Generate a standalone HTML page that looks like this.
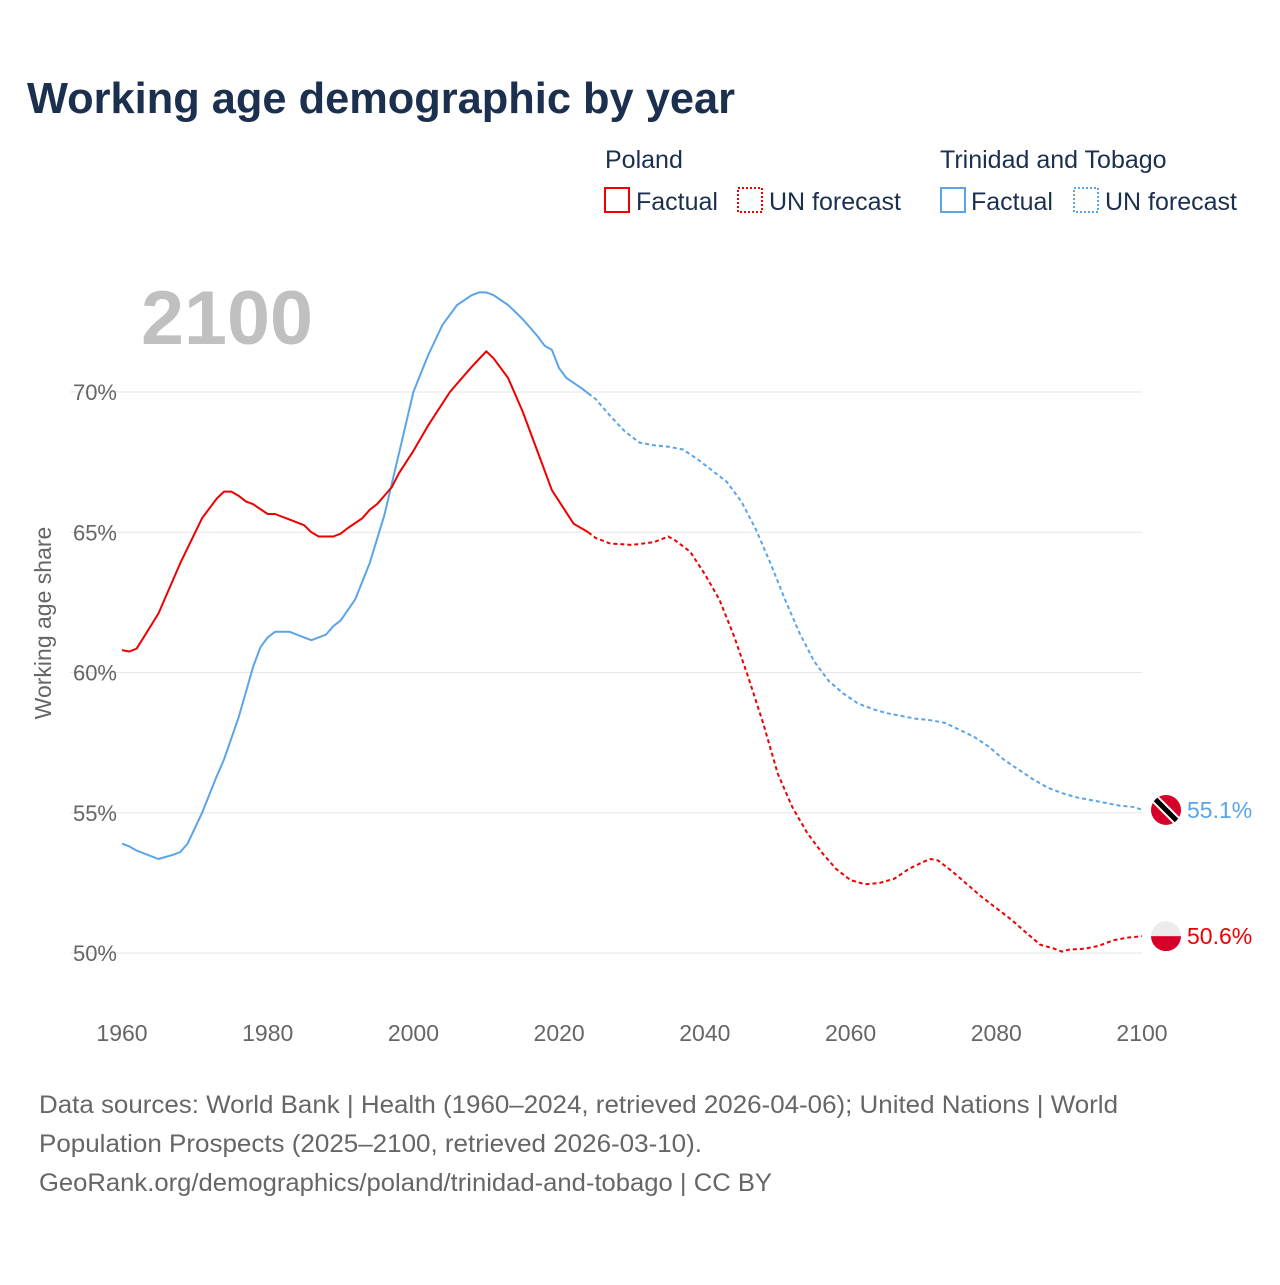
<!DOCTYPE html>
<html><head><meta charset="utf-8"><style>
body{margin:0;background:#fff;font-family:"Liberation Sans",sans-serif;}
svg text{font-family:"Liberation Sans",sans-serif;}
</style></head><body>
<svg width="1280" height="1280">
<rect width="1280" height="1280" fill="#fff"/>
<text x="27" y="113" font-size="44" font-weight="bold" fill="#1b2f4e" textLength="708" lengthAdjust="spacingAndGlyphs">Working age demographic by year</text>
<g font-size="25" fill="#1b2f4e">
<text x="605" y="168">Poland</text>
<rect x="605" y="188" width="24" height="24" fill="none" stroke="#ee0000" stroke-width="2"/>
<text x="636" y="210">Factual</text>
<rect x="738" y="188" width="24" height="24" fill="none" stroke="#ee0000" stroke-width="2" stroke-dasharray="2,2"/>
<text x="769" y="210">UN forecast</text>
<text x="940" y="168">Trinidad and Tobago</text>
<rect x="941" y="188" width="24" height="24" fill="none" stroke="#5ba4ea" stroke-width="2"/>
<text x="971" y="210">Factual</text>
<rect x="1074" y="188" width="24" height="24" fill="none" stroke="#5ba4ea" stroke-width="2" stroke-dasharray="2,2"/>
<text x="1105" y="210">UN forecast</text>
</g>
<text x="141" y="344" font-size="76" font-weight="bold" fill="#c0c0c0" textLength="172" lengthAdjust="spacingAndGlyphs">2100</text>
<g id="grid"></g><g id="xt"></g><g id="lines"></g>
<text transform="translate(51,623) rotate(-90)" text-anchor="middle" font-size="23" fill="#666">Working age share</text>
<g font-size="25" fill="#666">
<text x="39" y="1113" textLength="1079" lengthAdjust="spacingAndGlyphs">Data sources: World Bank | Health (1960–2024, retrieved 2026-04-06); United Nations | World</text>
<text x="39" y="1152" textLength="663" lengthAdjust="spacingAndGlyphs">Population Prospects (2025–2100, retrieved 2026-03-10).</text>
<text x="39" y="1191" textLength="733" lengthAdjust="spacingAndGlyphs">GeoRank.org/demographics/poland/trinidad-and-tobago | CC BY</text>
</g>
</svg>
<script>
const yTicks=[50,55,60,65,70];
const xTicks=[1960,1980,2000,2020,2040,2060,2080,2100];
const plYears=[1960,1961,1962,1965,1968,1971,1973,1974,1975,1976,1977,1978,1980,1981,1983,1985,1986,1987,1989,1990,1991,1993,1994,1995,1997,1998,2000,2002,2005,2008,2010,2011,2013,2015,2017,2019,2021,2022,2024,2025,2027,2030,2033,2035,2036,2038,2040,2042,2044,2046,2048,2050,2052,2054,2056,2058,2060,2062,2064,2066,2068,2070,2071,2072,2074,2076,2078,2080,2082,2084,2086,2088,2089,2090,2092,2094,2096,2098,2100];
const plValues=[60.8,60.75,60.85,62.1,63.9,65.5,66.2,66.45,66.45,66.3,66.1,66.0,65.65,65.65,65.45,65.25,65.0,64.85,64.85,64.95,65.15,65.5,65.8,66.0,66.6,67.1,67.9,68.8,70.0,70.9,71.45,71.2,70.5,69.3,67.9,66.5,65.7,65.3,65.0,64.8,64.6,64.55,64.65,64.85,64.7,64.3,63.5,62.6,61.3,59.8,58.2,56.4,55.2,54.3,53.6,53.0,52.6,52.45,52.5,52.65,53.0,53.25,53.35,53.3,52.9,52.45,52.0,51.6,51.2,50.75,50.3,50.15,50.05,50.12,50.15,50.25,50.45,50.55,50.6];
const ttYears=[1960,1961,1962,1965,1967,1968,1969,1971,1973,1974,1976,1977,1978,1979,1980,1981,1983,1985,1986,1988,1989,1990,1992,1994,1996,1998,2000,2002,2004,2006,2008,2009,2010,2011,2013,2015,2017,2018,2019,2020,2021,2023,2024,2025,2027,2029,2031,2033,2035,2037,2039,2041,2043,2045,2047,2049,2051,2053,2055,2057,2059,2061,2063,2065,2067,2069,2071,2073,2075,2077,2079,2081,2083,2085,2087,2089,2091,2093,2095,2097,2099,2100];
const ttValues=[53.9,53.8,53.65,53.35,53.5,53.6,53.9,55.0,56.3,56.9,58.4,59.3,60.2,60.9,61.25,61.45,61.45,61.25,61.15,61.35,61.65,61.85,62.6,63.9,65.6,67.8,70.0,71.3,72.4,73.1,73.45,73.55,73.55,73.45,73.1,72.6,72.0,71.65,71.5,70.85,70.5,70.15,69.95,69.75,69.15,68.6,68.2,68.1,68.05,67.95,67.6,67.2,66.8,66.1,65.1,63.9,62.6,61.4,60.4,59.7,59.25,58.9,58.7,58.55,58.45,58.35,58.3,58.2,57.95,57.7,57.35,56.9,56.55,56.2,55.9,55.7,55.55,55.45,55.35,55.25,55.2,55.1];
const forecastStart=2024;
const NS='http://www.w3.org/2000/svg';
const X=y=>122+(y-1960)*(1020/140);
const Y=v=>953-(v-50)*(561/20);
function mk(t,a,p){const e=document.createElementNS(NS,t);for(const k in a)e.setAttribute(k,a[k]);p.appendChild(e);return e;}
const grid=document.getElementById('grid');
yTicks.forEach(v=>{
 const l=mk('line',{x1:70,x2:1142,y1:Y(v),y2:Y(v),stroke:'#e6e6e6','stroke-width':1},grid);
 
 
 const t=mk('text',{x:117,y:Y(v)+8,'text-anchor':'end','font-size':22,fill:'#666'},grid);
 t.textContent=v+'%';
 
 
});
const xt=document.getElementById('xt');
xTicks.forEach(y=>{
 const t=mk('text',{x:X(y),y:1041,'text-anchor':'middle','font-size':23,fill:'#666'},xt);
 t.textContent=y;
 
 
});
const lines=document.getElementById('lines');
function draw(ys,vs,color,name){
 const a=[],b=[];
 ys.forEach((y,i)=>{const p=X(y).toFixed(1)+','+Y(vs[i]).toFixed(1);if(y<=forecastStart)a.push(p);if(y>=forecastStart)b.push(p);});
 const f=mk('polyline',{points:a.join(' '),fill:'none',stroke:color,'stroke-width':2,'stroke-linejoin':'round'},lines);
 
 
 const d=mk('polyline',{points:b.join(' '),fill:'none',stroke:color,'stroke-width':2,'stroke-dasharray':'4,3'},lines);
 
 
 const last=vs[vs.length-1];
 const t=mk('text',{x:1187,y:Y(last)+8,'font-size':23,fill:color},lines);
 t.textContent=last.toFixed(1)+'%';
 
 
 return Y(last);
}
const tY=draw(ttYears,ttValues,'#5ba4ea','tt');
const pY=draw(plYears,plValues,'#ee0000','poland');
const cx=1166;
let g=mk('g',{},lines);


const cp=mk('clipPath',{id:'c1'},g);mk('circle',{cx:cx,cy:tY,r:15},cp);
const g1=mk('g',{'clip-path':'url(#c1)'},g);
mk('rect',{x:cx-15,y:tY-15,width:30,height:30,fill:'#d6002a'},g1);
mk('line',{x1:cx-15,y1:tY-15,x2:cx+15,y2:tY+15,stroke:'#fff','stroke-width':9},g1);
mk('line',{x1:cx-15,y1:tY-15,x2:cx+15,y2:tY+15,stroke:'#000','stroke-width':5},g1);
g=mk('g',{},lines);


const cp2=mk('clipPath',{id:'c2'},g);mk('circle',{cx:cx,cy:pY,r:15},cp2);
const g2=mk('g',{'clip-path':'url(#c2)'},g);
mk('rect',{x:cx-15,y:pY-15,width:30,height:15,fill:'#ececec'},g2);
mk('rect',{x:cx-15,y:pY,width:30,height:15,fill:'#d6002a'},g2);
</script>
</body></html>
